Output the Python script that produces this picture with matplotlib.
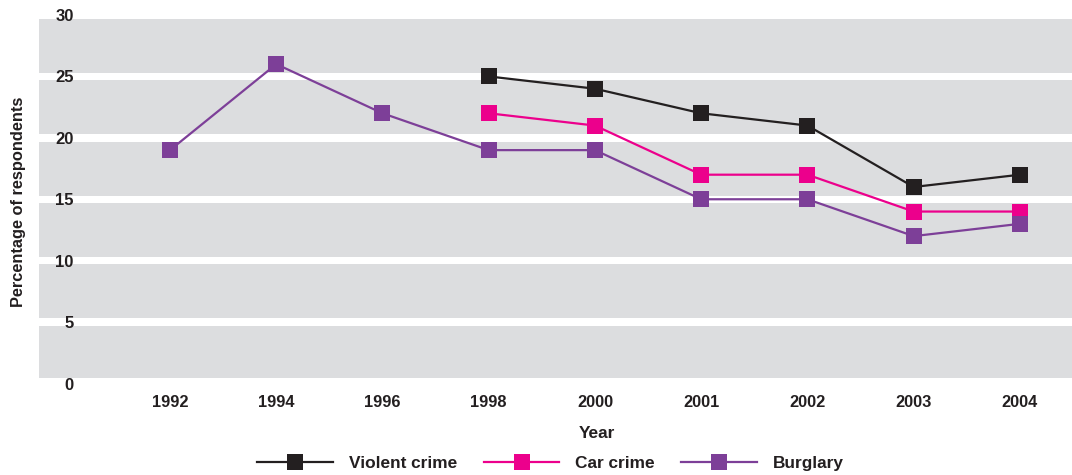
import matplotlib
matplotlib.use("Agg")
import matplotlib.pyplot as plt

years = ["1992", "1994", "1996", "1998", "2000", "2001", "2002", "2003", "2004"]
violent_years = ["1998", "2000", "2001", "2002", "2003", "2004"]
violent = [25, 24, 22, 21, 16, 17]
car_years = ["1998", "2000", "2001", "2002", "2003", "2004"]
car = [22, 21, 17, 17, 14, 14]
burglary_years = years
burglary = [19, 26, 22, 19, 19, 15, 15, 12, 13]
yticks = [0, 5, 10, 15, 20, 25, 30]

plt.rcParams['font.family'] = ['Liberation Sans', 'DejaVu Sans']
plt.rcParams['font.weight'] = 'bold'

fig = plt.figure(figsize=(10.72, 4.75), dpi=100)
ax = fig.add_axes([0.0364, 0.1926, 1 - 0.0364, 0.9684 - 0.1926])

gray = '#dcdddf'
ax.set_facecolor('white')
gap = 0.3
for lo, hi in zip(yticks[:-1], yticks[1:]):
    ax.axhspan(lo + (0.45 if lo == 0 else gap), hi - gap, color=gray, lw=0, zorder=0)

idx = {y: i for i, y in enumerate(years)}
series = [
    (violent_years, violent, '#231f20', 'Violent crime'),
    (car_years, car, '#ec008c', 'Car crime'),
    (burglary_years, burglary, '#7d3f98', 'Burglary'),
]
for xs, vals, col, lab in series:
    ax.plot([idx[x] for x in xs], vals, color=col, lw=1.6, marker='s', ms=11,
            markeredgewidth=0, label=lab, zorder=3)

ax.set_xlim(-1.233, 8.49)
ax.set_ylim(0, 30)
ax.set_xticks(range(len(years)))
ax.set_xticklabels(years, fontsize=11.8, fontweight='bold', color='#231f20')
ax.set_yticks(yticks)
ax.set_yticklabels([str(t) for t in yticks], fontsize=12, fontweight='bold', color='#231f20')
ax.tick_params(axis='x', length=0, pad=8)
ax.tick_params(axis='y', length=0, pad=-25)
for lbl in ax.get_yticklabels():
    lbl.set_horizontalalignment('right')
for s in ax.spines.values():
    s.set_visible(False)

fig.text(0.0175, 1 - 202 / 475, 'Percentage of respondents', rotation=90, ha='center', va='center',
         fontsize=11.8, fontweight='bold', color='#231f20')
fig.text(0.557, 1 - 433 / 475, 'Year', ha='center', va='center', fontsize=12.4,
         fontweight='bold', color='#231f20')

handles, labels = ax.get_legend_handles_labels()
leg = fig.legend(handles, labels, loc='center', bbox_to_anchor=(0.5135, 1 - 463 / 475), ncol=3,
                 frameon=False, fontsize=12.4, handlelength=4.4, handletextpad=0.9,
                 columnspacing=1.55, borderpad=0)
for t in leg.get_texts():
    t.set_fontweight('bold')
    t.set_color('#231f20')

fig.savefig('out.png', dpi=100)
